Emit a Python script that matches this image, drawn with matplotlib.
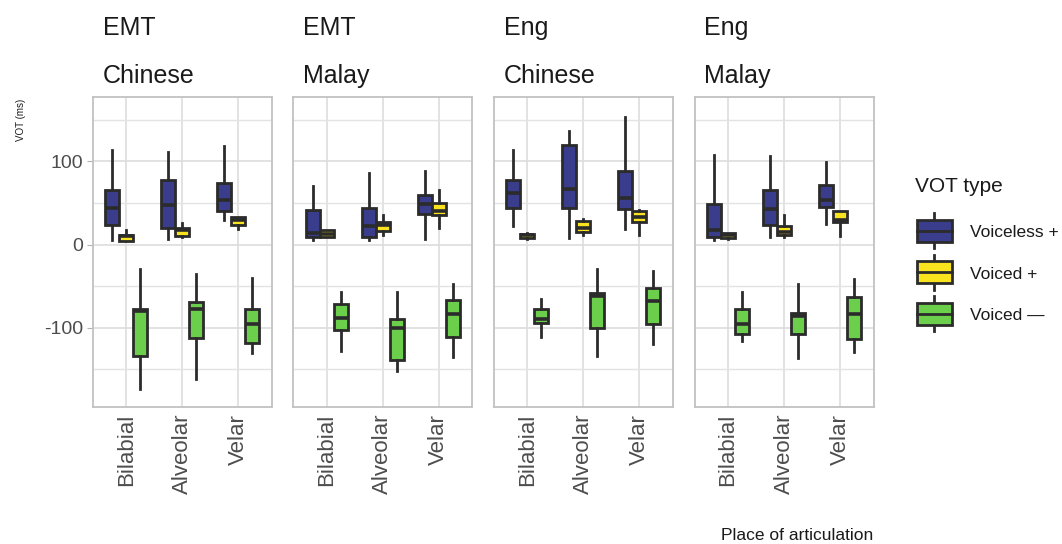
import matplotlib
matplotlib.use("Agg")
import matplotlib.pyplot as plt
from matplotlib.patches import Patch, Rectangle
from matplotlib.lines import Line2D
from matplotlib.legend_handler import HandlerBase

plt.rcParams['font.family'] = ['Liberation Sans', 'DejaVu Sans']

# data
groups = ["EMT", "EMT", "Eng", "Eng"]
languages = ["Chinese", "Malay", "Chinese", "Malay"]
places = ["Bilabial", "Alveolar", "Velar"]
vot_types = ["Voiceless +", "Voiced +", "Voiced \u2014"]
colors = ["#3A3C8C", "#F9E21E", "#6CCF4C"]

# each list: one row per panel, one value per place  (lower whisker, q1, median, q3, upper whisker)
voiceless_lo = [[5, 7, 29], [6, 6, 7], [22, 8, 19], [6, 9, 25]]
voiceless_q1 = [[24, 20, 40], [9, 9, 37], [44, 44, 43], [9, 24, 45]]
voiceless_med = [[44, 47, 53], [14, 22, 49], [62, 67, 56], [18, 43, 54]]
voiceless_q3 = [[66, 77, 74], [42, 44, 59], [77, 120, 88], [49, 66, 71]]
voiceless_hi = [[114, 111, 118], [70, 86, 88], [114, 137, 153], [108, 107, 99]]

voicedp_lo = [[4, 9, 19], [9, 11, 20], [7, 11, 11], [7, 9, 10]]
voicedp_q1 = [[4, 10, 24], [9, 16, 35], [8, 15, 27], [8, 11, 27]]
voicedp_med = [[10, 17, 30], [13, 24, 40], [11, 20, 33], [11, 15, 30]]
voicedp_q3 = [[12, 20, 33], [17, 27, 50], [13, 28, 40], [14, 22, 40]]
voicedp_hi = [[17, 26, 33], [17, 36, 65], [14, 31, 42], [14, 35, 40]]

voicedm_lo = [[-174, -162, -130], [-128, -152, -135], [-111, -134, -120], [-116, -137, -129]]
voicedm_q1 = [[-134, -112, -118], [-103, -139, -111], [-94, -100, -96], [-107, -108, -114]]
voicedm_med = [[-80, -78, -96], [-88, -100, -84], [-90, -62, -68], [-96, -86, -84]]
voicedm_q3 = [[-77, -69, -77], [-71, -89, -67], [-78, -58, -52], [-77, -82, -63]]
voicedm_hi = [[-29, -36, -40], [-57, -57, -48], [-66, -29, -32], [-57, -47, -42]]

stats_by_type = [
    (voiceless_lo, voiceless_q1, voiceless_med, voiceless_q3, voiceless_hi),
    (voicedp_lo, voicedp_q1, voicedp_med, voicedp_q3, voicedp_hi),
    (voicedm_lo, voicedm_q1, voicedm_med, voicedm_q3, voicedm_hi),
]
offsets = [-0.25, 0.0, 0.25]

edge = "#2B2B2B"
W, H = 1062, 544
fig = plt.figure(figsize=(W / 100, H / 100), dpi=100)

for k in range(4):
    ax = fig.add_axes([(92.7 + k * 200.6) / W, 1 - 406.7 / H, 179 / W, 309.4 / H])
    xs = list(range(1, len(places) + 1))
    for t in range(3):
        lo, q1, med, q3, hi = stats_by_type[t]
        bstats = []
        for p in range(3):
            bstats.append(dict(whislo=lo[k][p], q1=q1[k][p], med=med[k][p],
                               q3=q3[k][p], whishi=hi[k][p], fliers=[]))
        ax.bxp(bstats, positions=[x + offsets[t] for x in xs], widths=0.25,
               patch_artist=True, showfliers=False, showcaps=False,
               boxprops=dict(facecolor=colors[t], edgecolor=edge, linewidth=2.0),
               medianprops=dict(color=edge, linewidth=2.6),
               whiskerprops=dict(color=edge, linewidth=2.0), zorder=3)
    ax.set_xlim(0.4, 3.6)
    ax.set_ylim(-195, 177)
    ax.set_xticks(xs)
    ax.set_xticklabels(places, rotation=90, fontsize=16, color="#4D4D4D")
    ax.set_yticks([-100, 0, 100])
    ax.set_yticks([-150, -50, 50, 150], minor=True)
    ax.grid(True, which="major", color="#DDDDDD", linewidth=1.2, zorder=0)
    ax.grid(True, which="minor", color="#E3E3E3", linewidth=1.0, zorder=0)
    ax.set_axisbelow(True)
    for s in ax.spines.values():
        s.set_color("#C2C2C2")
        s.set_linewidth(1.3)
    ax.tick_params(axis="x", length=0, pad=5)
    ax.tick_params(axis="y", which="minor", length=0)
    if k == 0:
        ax.set_yticklabels(["-100", "0", "100"])
        ax.tick_params(axis="y", which="major", length=4, color="#B3B3B3",
                       labelsize=14, labelcolor="#4D4D4D", pad=3)
    else:
        ax.tick_params(axis="y", which="major", length=0, labelleft=False)
    left_px = 92.7 + k * 200.6
    fig.text((left_px + 10) / W, 1 - 35 / H, groups[k], fontsize=18,
             color="#1A1A1A", va="baseline", ha="left")
    fig.text((left_px + 10) / W, 1 - 83 / H, languages[k], fontsize=18,
             color="#1A1A1A", va="baseline", ha="left")

fig.text(21 / W, 1 - 120 / H, "VOT (ms)", rotation=90, fontsize=7,
         color="#1A1A1A", ha="center", va="center")
fig.text(797 / W, 1 - 536 / H, "Place of articulation", fontsize=12.5,
         color="#1A1A1A", ha="center", va="center")


class BoxKey(HandlerBase):
    def create_artists(self, legend, orig_handle, xdescent, ydescent,
                       width, height, fontsize, trans):
        x0 = -xdescent
        total = height + ydescent
        cy = 0.36 * fontsize
        cx = x0 + width / 2
        bh = total * 0.63
        whisk = Line2D([cx, cx], [cy - total / 2, cy + total / 2], color=edge,
                       lw=2.0, transform=trans)
        box = Rectangle((x0, cy - bh / 2), width, bh,
                        facecolor=orig_handle.get_facecolor(),
                        edgecolor=edge, lw=2.0, transform=trans)
        med = Line2D([x0, x0 + width], [cy, cy], color=edge, lw=2.0,
                     transform=trans)
        return [whisk, box, med]


handles = [Patch(facecolor=c) for c in colors]
fig.text(915 / W, 1 - 192 / H, "VOT type", fontsize=15, color="#1A1A1A",
         ha="left", va="baseline")
fig.legend(handles, vot_types, handler_map={Patch: BoxKey()}, loc="upper left",
           bbox_to_anchor=(917 / W, 1 - 218 / H), frameon=False, fontsize=12.5,
           labelcolor="#1A1A1A", handlelength=2.0, handleheight=2.0,
           labelspacing=0.85, handletextpad=1.07, borderpad=0, borderaxespad=0)

fig.savefig("out.png", dpi=100)
